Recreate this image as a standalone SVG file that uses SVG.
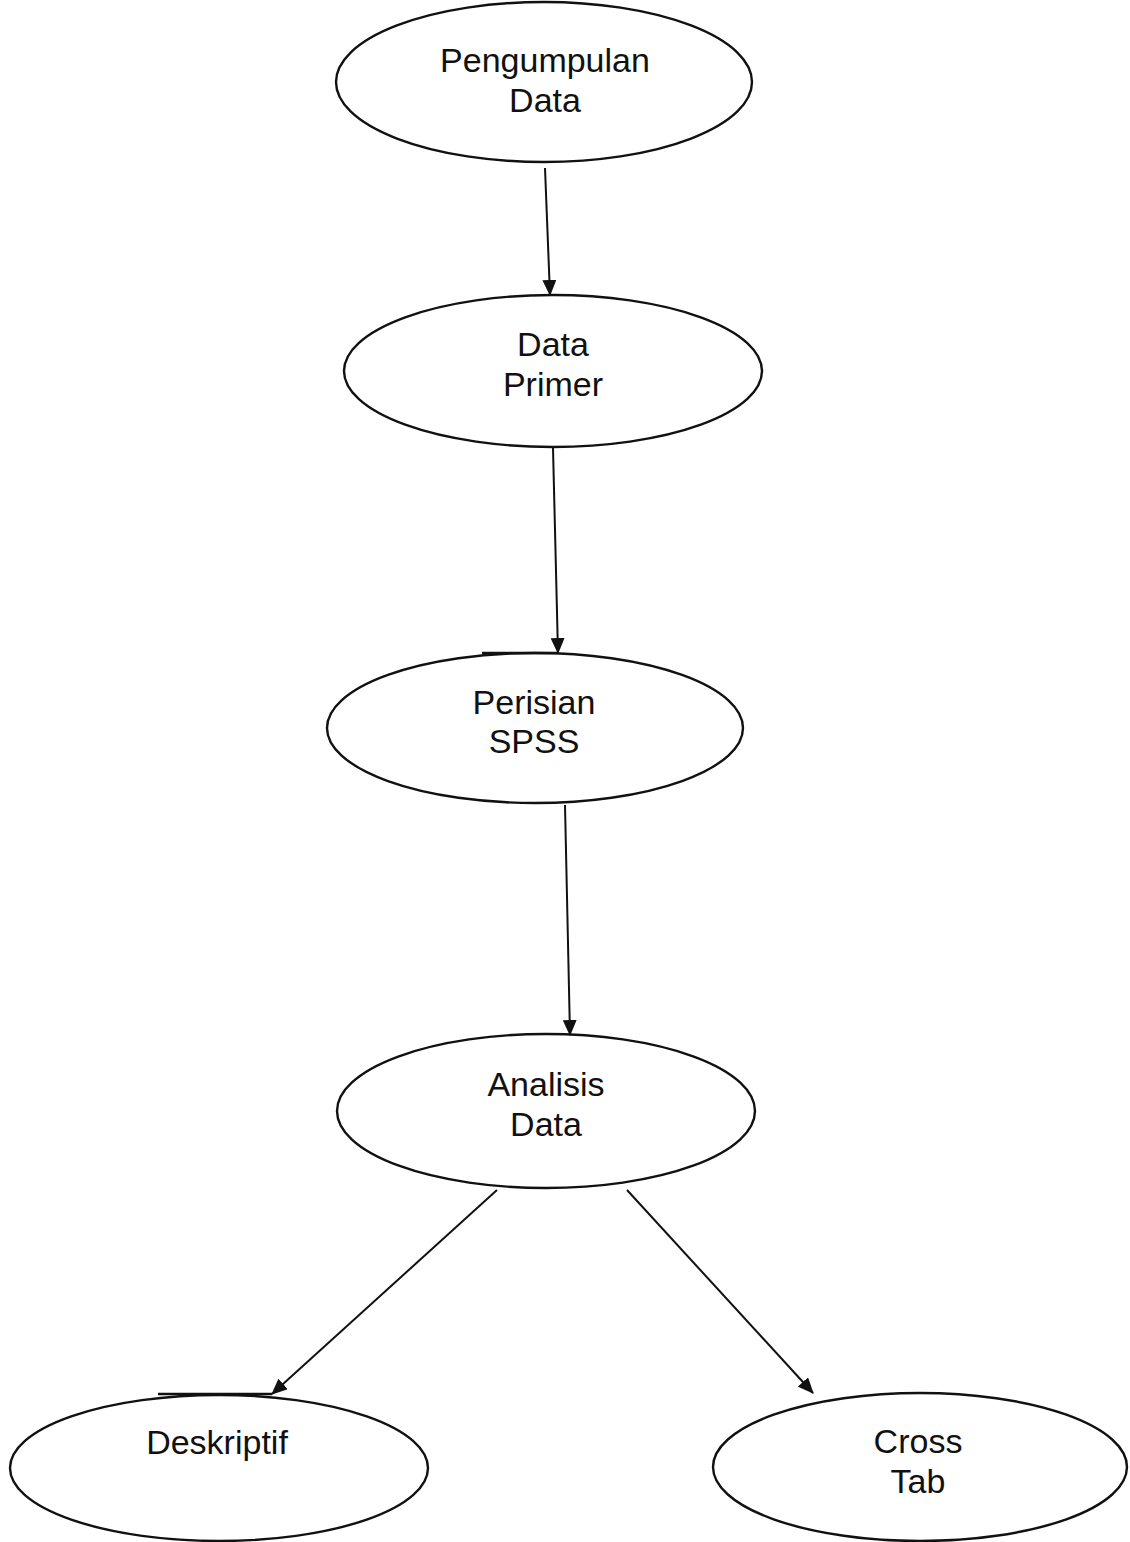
<svg xmlns="http://www.w3.org/2000/svg" width="1130" height="1542" viewBox="0 0 1130 1542">
<style>
.node ellipse{fill:#fff;stroke:#111;stroke-width:2.4}
.node line{stroke:#111;stroke-width:2.4}
.node text{font-family:"Liberation Sans",Arial,sans-serif;font-size:34px;fill:#111;text-anchor:middle}
.edges line{stroke:#111;stroke-width:2;marker-end:url(#arrow)}
</style>
<defs>
<marker id="arrow" markerUnits="userSpaceOnUse" markerWidth="16" markerHeight="14" refX="15" refY="7" orient="auto">
<path d="M0,0 L16,7 L0,14 z" fill="#111"/>
</marker>
</defs>
<rect width="1130" height="1542" fill="#fff"/>
<g id="n1" class="node">
<ellipse cx="544" cy="82" rx="208" ry="80"/>
<text x="545" y="72">Pengumpulan</text>
<text x="545" y="112">Data</text>
</g>
<g id="n2" class="node">
<ellipse cx="553" cy="371" rx="209" ry="76"/>
<text x="553" y="356">Data</text>
<text x="553" y="396">Primer</text>
</g>
<g id="n3" class="node">
<ellipse cx="535" cy="728" rx="208" ry="75"/>
<line x1="482" y1="653" x2="557" y2="653"/>
<text x="534" y="714">Perisian</text>
<text x="534" y="753">SPSS</text>
</g>
<g id="n4" class="node">
<ellipse cx="546" cy="1111" rx="209" ry="77"/>
<text x="546" y="1096">Analisis</text>
<text x="546" y="1136">Data</text>
</g>
<g id="n5" class="node">
<ellipse cx="219" cy="1468" rx="209" ry="73"/>
<line x1="158" y1="1394" x2="272" y2="1394"/>
<text x="217" y="1454">Deskriptif</text>
</g>
<g id="n6" class="node">
<ellipse cx="920" cy="1467" rx="207" ry="74"/>
<text x="918" y="1453">Cross</text>
<text x="918" y="1493">Tab</text>
</g>
<g id="edges" class="edges">
<line x1="545" y1="168" x2="550" y2="295"/>
<line x1="553" y1="448" x2="558" y2="653"/>
<line x1="565" y1="805" x2="570" y2="1035"/>
<line x1="497" y1="1190" x2="272" y2="1394"/>
<line x1="627" y1="1190" x2="813" y2="1393"/>
</g>
</svg>
